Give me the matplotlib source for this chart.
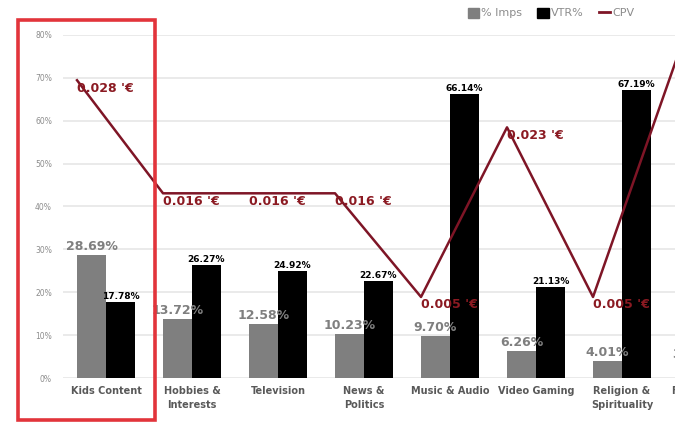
import numpy as np
import matplotlib
matplotlib.use("Agg")
import matplotlib.pyplot as plt
from matplotlib.patches import Rectangle, Patch
from matplotlib.lines import Line2D

# chart data
categories = ["Kids Content", "Hobbies &\nInterests", "Television", "News &\nPolitics",
              "Music & Audio", "Video Gaming", "Religion &\nSpirituality", "Food & Drink"]
imps = [28.69, 13.72, 12.58, 10.23, 9.70, 6.26, 4.01, 3.40]
vtr = [17.78, 26.27, 24.92, 22.67, 66.14, 21.13, 67.19, 30.00]
cpv = [0.028, 0.016, 0.016, 0.016, 0.005, 0.023, 0.005, 0.031]

GREY = "#7f7f7f"
WINE = "#7e1526"
W, H = 683, 424

fig = plt.figure(figsize=(W / 100, H / 100), dpi=100)
ax = fig.add_axes([63 / W, 46 / H, 688 / W, 343 / H])

x = np.arange(len(categories))
w = 0.337
ax.bar(x - w / 2, imps, w, color=GREY, zorder=2)
ax.bar(x + w / 2, vtr, w, color="black", zorder=2)

for xi, v in zip(x, imps):
    ax.annotate(f"{v:.2f}%", (xi - w / 2, v), xytext=(0, 2), textcoords="offset pixels",
                ha="center", va="bottom", fontsize=9, fontweight="bold", color=GREY, zorder=4)
for xi, v in zip(x, vtr):
    ax.annotate(f"{v:.2f}%", (xi + w / 2, v), xytext=(0, 1), textcoords="offset pixels",
                ha="center", va="bottom", fontsize=6.5, fontweight="bold", color="black", zorder=4)

ax.set_xlim(-0.5, 7.5)
ax.set_ylim(0, 80)
ticks = list(range(0, 81, 10))
ax.set_yticks(ticks)
ax.set_yticklabels([f"{t}%" for t in ticks], fontsize=5.5, color="#8c8c8c")
ax.yaxis.grid(True, color="#e6e6e6", lw=1.2)
ax.set_axisbelow(True)
ax.tick_params(axis="y", length=0, pad=8)
ax.set_xticks(x)
ax.set_xticklabels(categories, fontsize=7, fontweight="bold", color="#595959", linespacing=1.4)
ax.tick_params(axis="x", length=0, pad=6)
for s in ax.spines.values():
    s.set_visible(False)

# CPV on hidden secondary axis
ax2 = ax.twinx()
ax2.set_ylim(-0.0036, 0.0328)
ax2.plot(x - w, cpv, color=WINE, lw=1.8, zorder=3)
for xi, v in zip(x, cpv):
    ax2.annotate(f"{v:.3f} '€", (xi - w, v), xytext=(0, -8), textcoords="offset pixels",
                 ha="left", va="center", fontsize=9, fontweight="bold", color="#8b1a22")
ax2.set_yticks([])
for s in ax2.spines.values():
    s.set_visible(False)

handles = [Patch(color=GREY, label="% Imps"), Patch(color="black", label="VTR%"),
           Line2D([], [], color=WINE, lw=2, label="CPV")]
fig.legend(handles=handles, loc="center", bbox_to_anchor=(551 / W, 1 - 13 / H), ncol=3,
           frameon=False, fontsize=8, labelcolor="#8c8c8c", handlelength=1.0, handleheight=1.0,
           handletextpad=0.2, columnspacing=1.4)

# screenshot is cut off on the right
fig.add_artist(Rectangle((675 / W, 0), 8 / W, 1, transform=fig.transFigure,
                         facecolor="white", edgecolor="none", zorder=20))
# red highlight box around Kids Content
fig.add_artist(Rectangle((18 / W, 4 / H), 137 / W, 400 / H, transform=fig.transFigure,
                         fill=False, edgecolor="#e2343b", lw=2.6, zorder=25))

fig.savefig("out.png", dpi=100)
